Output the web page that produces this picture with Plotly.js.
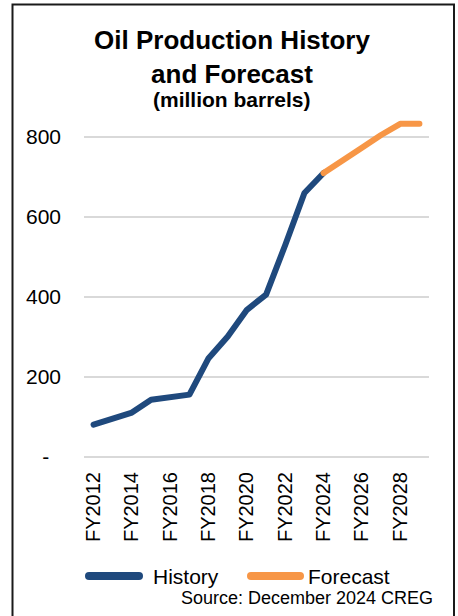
<!DOCTYPE html>
<html>
<head>
<meta charset="utf-8">
<script src="https://cdn.plot.ly/plotly-3.0.1.min.js"></script>
<style>
  html, body { margin: 0; padding: 0; background: #ffffff; }
  #chart { width: 458px; height: 616px; }
  .scatterlayer path.js-line { stroke-linejoin: round; stroke-linecap: round; }
  .shapelayer path { stroke-linecap: round; }
</style>
</head>
<body>
<div id="chart"></div>
<script>
// Fiscal years on the category axis
const historyYears = ['FY2012', 'FY2013', 'FY2014', 'FY2015', 'FY2016', 'FY2017', 'FY2018',
                      'FY2019', 'FY2020', 'FY2021', 'FY2022', 'FY2023', 'FY2024'];
const forecastYears = ['FY2024', 'FY2025', 'FY2026', 'FY2027', 'FY2028', 'FY2029'];

// Oil production, million barrels
const historyValues = [81, 96, 111, 143, 150, 156, 247, 301, 368, 406, 530, 660, 710];
const forecastValues = [710, 740, 773, 805, 833, 833];

// Axis ticks
const xTickYears = ['FY2012', 'FY2014', 'FY2016', 'FY2018', 'FY2020', 'FY2022', 'FY2024', 'FY2026', 'FY2028'];
const yTickValues = [0, 200, 400, 600, 800];
const yTickLabels = ['-\u00a0\u00a0', '200', '400', '600', '800'];

const seriesNames = ['History', 'Forecast'];
const chartTitle = 'Oil Production History<br>and Forecast';
const chartUnits = '(million barrels)';
const sourceNote = 'Source: December 2024 CREG';

const allYears = historyYears.concat(forecastYears.slice(1));

const W = 458, H = 616;
const M = { l: 84, r: 29, t: 97, b: 159 };
const plotW = W - M.l - M.r, plotH = H - M.t - M.b;
// pixel position on the page -> paper fraction
const px = x => (x - M.l) / plotW;
const py = y => (H - M.b - y) / plotH;

const FONT = 'Liberation Sans, Arial, Helvetica, sans-serif';
const BLUE = '#1f497d';
const ORANGE = '#f79646';

const traces = [
  {
    x: historyYears, y: historyValues, name: seriesNames[0],
    type: 'scatter', mode: 'lines',
    line: { color: BLUE, width: 6 },
    hoverinfo: 'x+y', cliponaxis: false
  },
  {
    x: forecastYears, y: forecastValues, name: seriesNames[1],
    type: 'scatter', mode: 'lines',
    line: { color: ORANGE, width: 6 },
    hoverinfo: 'x+y', cliponaxis: false
  }
];

const layout = {
  width: W, height: H,
  margin: M,
  paper_bgcolor: '#ffffff', plot_bgcolor: '#ffffff',
  font: { family: FONT, color: '#000000' },
  showlegend: false,
  title: {
    text: chartTitle,
    font: { family: FONT, size: 26, weight: 'bold', color: '#000000' },
    xref: 'paper', x: px(232), xanchor: 'center',
    yref: 'container', y: 1 - 49 / H, yanchor: 'top'
  },
  xaxis: {
    type: 'category',
    categoryorder: 'array', categoryarray: allYears,
    range: [-0.5, allYears.length - 0.5],
    tickmode: 'array', tickvals: xTickYears, ticktext: xTickYears,
    tickangle: -90,
    tickfont: { family: FONT, size: 20, color: '#000000' },
    ticks: '', ticklabelstandoff: 10,
    showgrid: false, zeroline: false, showline: false
  },
  yaxis: {
    range: [0, 900],
    tickmode: 'array', tickvals: yTickValues, ticktext: yTickLabels,
    tickfont: { family: FONT, size: 21, color: '#000000' },
    ticks: '', ticklabelstandoff: 22,
    showgrid: true, gridcolor: '#d9d9d9', gridwidth: 1.5,
    zeroline: true, zerolinecolor: '#d9d9d9', zerolinewidth: 1.5,
    showline: false
  },
  annotations: [
    {
      text: chartUnits, showarrow: false,
      xref: 'paper', yref: 'paper', x: px(232), y: py(99),
      xanchor: 'center', yanchor: 'middle',
      font: { family: FONT, size: 21, weight: 'bold', color: '#000000' }
    },
    {
      text: seriesNames[0], showarrow: false,
      xref: 'paper', yref: 'paper', x: px(151), y: py(576),
      xanchor: 'left', yanchor: 'middle',
      font: { family: FONT, size: 21, color: '#000000' }
    },
    {
      text: seriesNames[1], showarrow: false,
      xref: 'paper', yref: 'paper', x: px(306), y: py(576),
      xanchor: 'left', yanchor: 'middle',
      font: { family: FONT, size: 21, color: '#000000' }
    },
    {
      text: sourceNote, showarrow: false,
      xref: 'paper', yref: 'paper', x: px(435), y: py(598),
      xanchor: 'right', yanchor: 'middle',
      font: { family: FONT, size: 18, color: '#000000' }
    }
  ],
  shapes: [
    // outer frame
    {
      type: 'rect', xref: 'paper', yref: 'paper', layer: 'above',
      x0: px(12.5), x1: px(454), y0: py(630), y1: py(4.5),
      line: { color: '#1a1a1a', width: 2 }, fillcolor: 'rgba(0,0,0,0)'
    },
    // legend swatches
    {
      type: 'line', xref: 'paper', yref: 'paper',
      x0: px(89), x1: px(139), y0: py(576), y1: py(576),
      line: { color: BLUE, width: 8 }
    },
    {
      type: 'line', xref: 'paper', yref: 'paper',
      x0: px(251), x1: px(300), y0: py(576), y1: py(576),
      line: { color: ORANGE, width: 8 }
    }
  ]
};

Plotly.newPlot('chart', traces, layout, { displayModeBar: false, staticPlot: true });
</script>
</body>
</html>
